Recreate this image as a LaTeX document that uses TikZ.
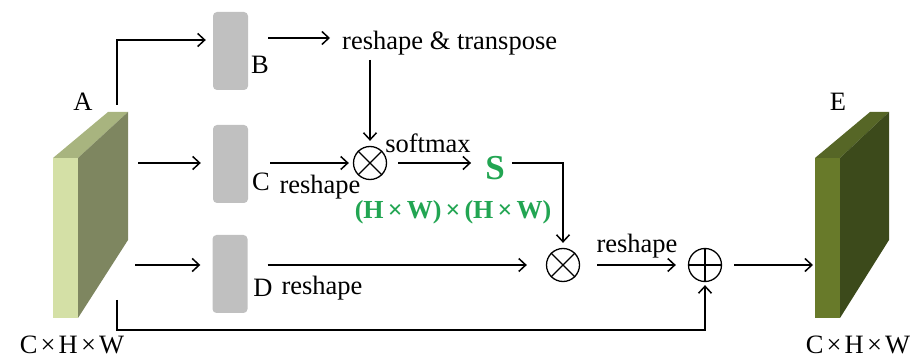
\documentclass[tikz,border=0pt]{standalone}
\usepackage{fontspec}
\setmainfont{Liberation Serif}
\usetikzlibrary{arrows.meta}
\definecolor{Afront}{HTML}{D4E0A6}
\definecolor{Atop}{HTML}{A8B47F}
\definecolor{Aside}{HTML}{7E8660}
\definecolor{Efront}{HTML}{687A2A}
\definecolor{Etop}{HTML}{566626}
\definecolor{Eside}{HTML}{3C4A1B}
\definecolor{sgreen}{HTML}{22A552}
\definecolor{blockgray}{HTML}{C0C0C0}
\newcommand{\tx}{\hspace{0.12em}×\hspace{0.12em}}
\newcommand{\gx}{\hspace{0.16em}×\hspace{0.16em}}
\begin{document}
\begin{tikzpicture}[x=1pt,y=-1pt,
  arr/.style={line width=1.5pt,-{Straight Barb[length=7pt,width=13pt,line width=1.5pt]}},
  blk/.style={fill=blockgray,rounded corners=4pt,minimum width=35pt,minimum height=78pt,inner sep=0pt},
  lbl/.style={font=\fontsize{26.5}{30}\selectfont,inner sep=0pt},
  glbl/.style={font=\fontsize{26}{28}\selectfont\bfseries,text=sgreen,inner sep=0pt},
  op/.style={circle,draw,line width=1.3pt,minimum size=33pt,inner sep=0pt},
  opline/.style={line width=1.3pt}]
\useasboundingbox (0,0) rectangle (922,358);

% Tensor A
\fill[Atop] (53,158) -- (108,112) -- (128,112) -- (78,158) -- cycle;
\fill[Aside] (78,158) -- (128,112) -- (128,240) -- (78,318) -- cycle;
\fill[Afront] (53,158) rectangle (78,318);
\node[lbl] (labA) at (83,102) {A};
\node[lbl] (dimA) at (72,345) {C\tx H\tx W};

% Tensor E
\fill[Etop] (815,158) -- (870,112) -- (889,112) -- (840,158) -- cycle;
\fill[Eside] (840,158) -- (889,112) -- (889,240) -- (840,318) -- cycle;
\fill[Efront] (815,158) rectangle (840,318);
\node[lbl] (labE) at (838,102) {E};
\node[lbl] (dimE) at (858,345) {C\tx H\tx W};

% blocks
\node[blk] (B) at (230.5,51) {};
\node[blk] (C) at (230.5,164) {};
\node[blk] (D) at (230,274) {};
\node[lbl] (labB) at (260,65) {B};
\node[lbl] (labC) at (261,182) {C};
\node[lbl] (labD) at (263,288) {D};
\node[lbl] (rsD) at (322,288) {reshape};

% operators
\node[op] (m1) at (370,163) {};
\node[op] (m2) at (563,265) {};
\node[op] (pl) at (705,265) {};
\draw[opline] (m1.45) -- (m1.225) (m1.135) -- (m1.315);
\draw[opline] (m2.45) -- (m2.225) (m2.135) -- (m2.315);
\draw[opline] (pl.north) -- (pl.south) (pl.east) -- (pl.west);

% texts
\node[lbl,anchor=west] (rt) at (342,43) {reshape \& transpose};
\node[lbl] (rsC) at (320,187) {reshape};
\node[lbl] (sm) at (428,143) {softmax};
\node[font=\fontsize{35}{36}\selectfont\bfseries,text=sgreen,inner sep=0pt] (S) at (495,168) {S};
\node[glbl] (hw) at (453,212) {(H\gx W)\gx (H\gx W)};
\node[lbl] (rs2) at (637,246) {reshape};

% coordinates
\coordinate (aTop) at (117,105);
\coordinate (aC) at (138,163);
\coordinate (aD) at (135,265);
\coordinate (aBot) at (117,300);
\coordinate (eIn) at (813,265);

% connectors
\draw[arr] (aTop) |- ([xshift=-7pt]B.west |- 0,40);
\draw[arr] (aC) -- ([xshift=-12pt]C.west |- aC);
\draw[arr] (aD) -- ([xshift=-12pt]D.west |- aD);
\draw[arr] ([xshift=20pt]B.east |- 0,38) -- ([xshift=-12pt]rt.west |- 0,38);
\draw[arr] (370,60) -- ([yshift=5pt]m1.north);
\draw[arr] ([xshift=22pt]C.east |- m1) -- ([xshift=-4pt]m1.west);
\draw[arr] ([xshift=11pt]m1.east) -- ([xshift=-14pt]S.west |- m1);
\draw[arr] ([xshift=7pt]S.east |- m1) -| ([yshift=5pt]m2.north);
\draw[arr] ([xshift=20pt]D.east |- m2) -- ([xshift=-19pt]m2.west);
\draw[arr] ([xshift=17pt]m2.east) -- ([xshift=-12pt]pl.west);
\draw[arr] ([xshift=12pt]pl.east) -- (eIn);
\draw[arr] (aBot) -- (117,330) -| ([yshift=-3pt]pl.south);
\end{tikzpicture}
\end{document}
